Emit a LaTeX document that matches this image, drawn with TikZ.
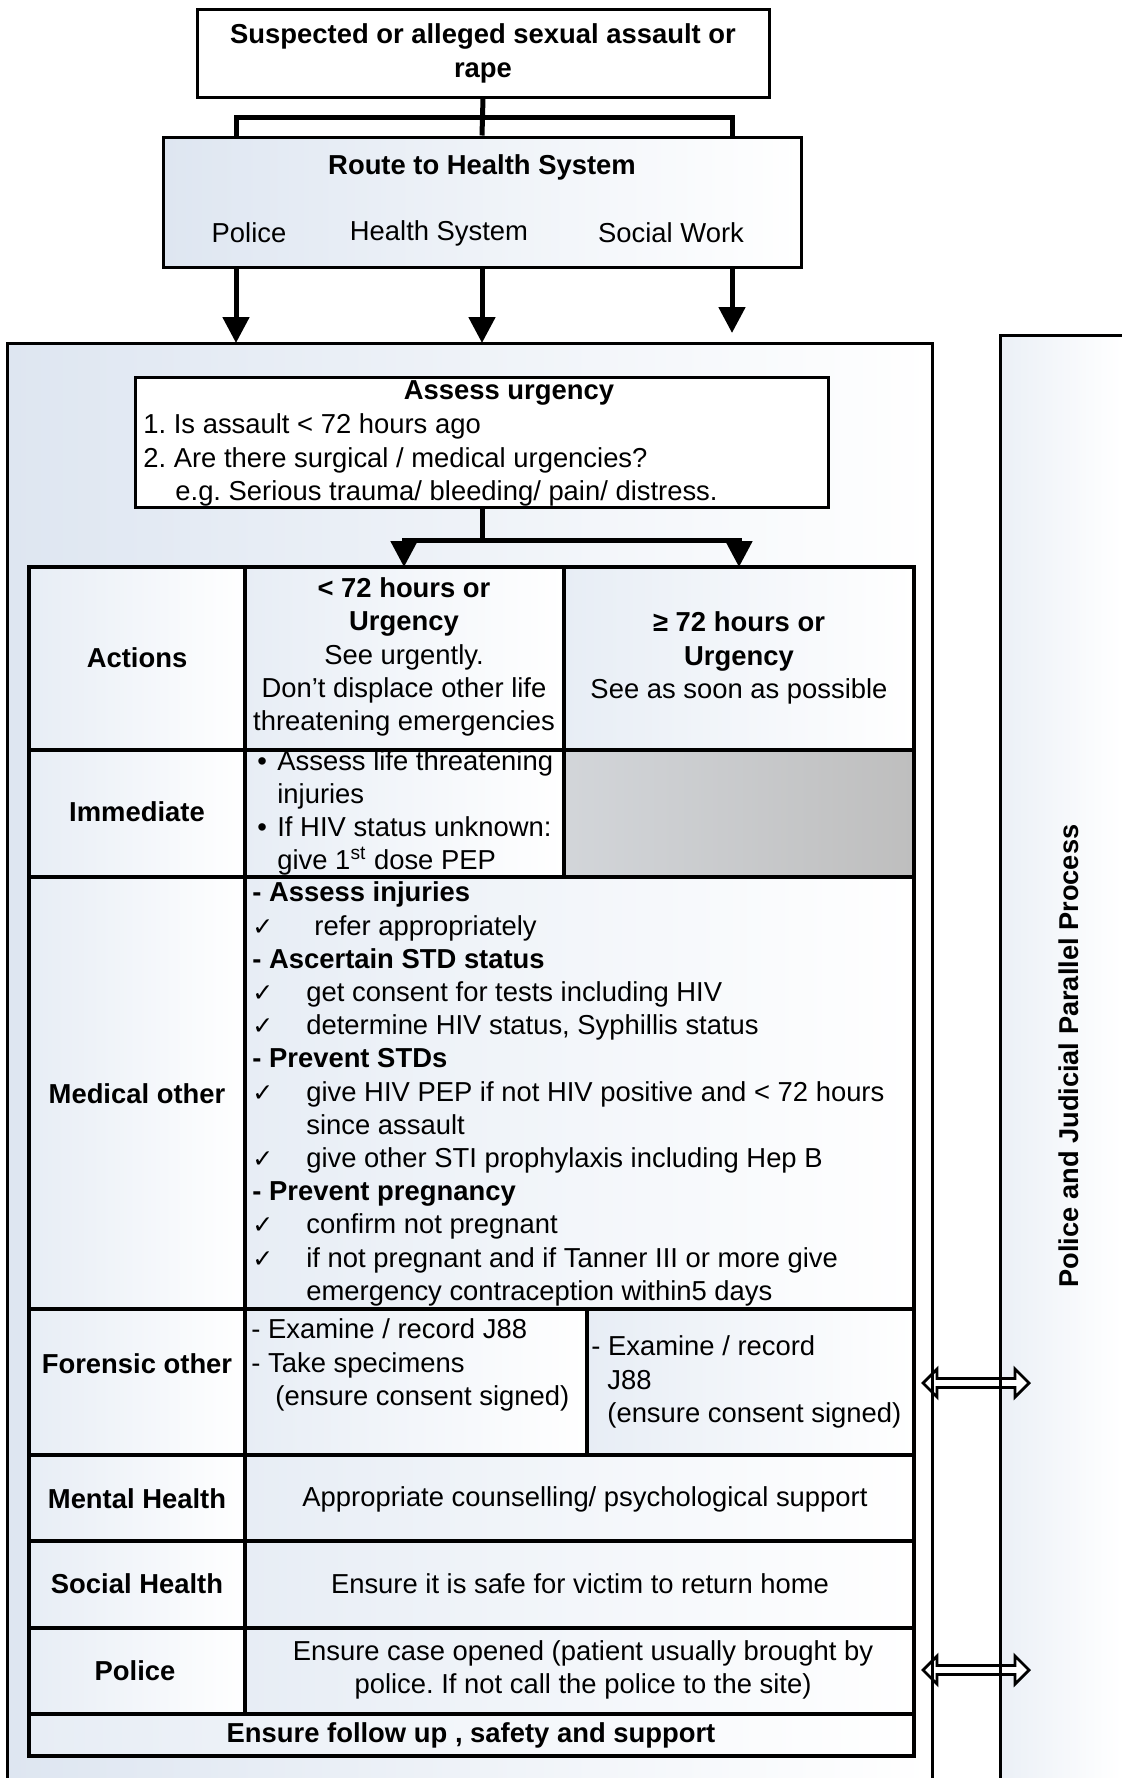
\documentclass[tikz,border=0pt]{standalone}
\usepackage{fontspec}
\setmainfont{Liberation Sans}
\newfontfamily\symfont{DejaVu Sans}
\usetikzlibrary{arrows.meta,positioning}
\frenchspacing

\definecolor{paleblue}{RGB}{222,230,241}
\definecolor{cellblue}{RGB}{231,237,245}
\definecolor{cellgray}{RGB}{190,190,190}

\newcommand{\basefont}{\fontsize{13.7}{16.6}\selectfont}
\newcommand{\chk}{\makebox[27pt][l]{\symfont\fontsize{12.5}{12.5}\selectfont ✓}}
\newcommand{\blt}{\makebox[10pt][l]{\textbullet}}

\tikzset{
  box/.style={draw, line width=1.5pt, inner sep=0pt},
  cell/.style={draw, line width=1.6pt, left color=cellblue, right color=white},
  txt/.style={inner sep=0pt, align=center, font=\basefont},
  head/.style={txt, font=\basefont\bfseries},
  conn/.style={line width=2.5pt},
  flow/.style={conn, -{Triangle[length=13pt,width=13pt]}},
  linkarrow/.pic={
    \draw[line width=1.4pt, fill=white, line join=miter]
      (-53,0) -- (-39,-14) -- (-39,-4.5) -- (39,-4.5) -- (39,-14) -- (53,0)
      -- (39,14) -- (39,4.5) -- (-39,4.5) -- (-39,14) -- cycle;
  }
}

\begin{document}
\begin{tikzpicture}[x=0.5pt, y=-0.5pt]
\useasboundingbox (0,0) rectangle (1122,1778);

% panels
\fill[left color=paleblue, right color=white] (7,343) rectangle (932,1778);
\fill[left color=paleblue!60, right color=white] (1000,335) rectangle (1122,1778);

% links to the parallel process
\coordinate (forensiclink) at (976,1383);
\coordinate (policelink) at (976,1670);
\pic at (forensiclink) {linkarrow};
\pic at (policelink) {linkarrow};

\draw[line width=1.5pt] (7,1778) -- (7,343) -- (932,343) -- (932,1778);
\draw[line width=1.5pt] (1000,1778) -- (1000,335) -- (1122,335);
\node[head, rotate=90, font=\fontsize{13.6}{16}\selectfont\bfseries] (parallel) at (1069,1056) {Police and Judicial Parallel Process};

% way in
\node[box, head, fill=white, minimum width=286pt, minimum height=44pt,
      font=\fontsize{13.7}{17}\selectfont\bfseries] (event) at (483,53) {Suspected or alleged sexual assault or\\rape};
\node[box, left color=paleblue, right color=white, minimum width=319pt, minimum height=65pt] (route) at (482,202) {};
\node[head] (routetitle) at (482,167) {Route to Health System};
\node[txt] (bypolice) at (249,233) {Police};
\node[txt] (byhealth) at (439,233) {Health System};
\node[txt] (bysocial) at (671,233) {Social Work};

\coordinate (colA) at (236,0);
\coordinate (colB) at (482,0);
\coordinate (colC) at (732,0);
\coordinate (split) at (482,117);
\coordinate (panel) at (0,343);
\coordinate (shortC) at (732,333);

\draw[conn] (event.south) -- (route.north);
\draw[conn] (route.north -| colA) |- (split) -| (route.north -| colC);
\draw[flow] (route.south -| colA) -- (panel -| colA);
\draw[flow] (route.south) -- (panel -| colB);
\draw[flow] (route.south -| colC) -- (shortC);

% urgency
\node[box, fill=white, minimum width=346.5pt, minimum height=65pt] (assess) at (482,442) {};
\node[head] (assesstitle) at (509,393) {Assess urgency};
\node[txt, anchor=west] (askhours) at (143,426) {1. Is assault < 72 hours ago};
\node[txt, anchor=west] (askurgent) at (143,460) {2. Are there surgical / medical urgencies?};
\node[txt, anchor=west] (example) at (175,493) {e.g. Serious trauma/ bleeding/ pain/ distress.};

\coordinate (fork) at (482,540);
\coordinate (tabletop) at (0,567);
\coordinate (colD) at (404,0);
\coordinate (colE) at (739,0);
\draw[conn] (assess.south) -- (fork);
\draw[flow] (fork) -| (tabletop -| colD);
\draw[flow] (fork) -| (tabletop -| colE);

% table of actions
\foreach \ya/\yb in {567/750, 750/877, 877/1309, 1309/1455, 1455/1541, 1541/1628, 1628/1714}
  \draw[cell] (29,\ya) rectangle (245,\yb);
\draw[cell] (245,567) rectangle (564,750);
\draw[cell] (564,567) rectangle (914,750);
\draw[cell] (245,750) rectangle (564,877);
\draw[cell, left color=cellblue!50!cellgray, right color=cellgray] (564,750) rectangle (914,877);
\draw[cell] (245,877) rectangle (914,1309);
\draw[cell] (245,1309) rectangle (587,1455);
\draw[cell] (587,1309) rectangle (914,1455);
\foreach \ya/\yb in {1455/1541, 1541/1628, 1628/1714}
  \draw[cell] (245,\ya) rectangle (914,\yb);
\draw[cell] (29,1714) rectangle (914,1756);

\node[head] (actions) at (137,658) {Actions};
\node[txt] (early) at (404,657) {\textbf{< 72 hours or}\\\textbf{Urgency}\\See urgently.\\Don’t displace other life\\threatening emergencies};
\node[txt] (late) at (739,658) {\textbf{≥ 72 hours or}\\\textbf{Urgency}\\See as soon as possible};

\node[head] (immediate) at (137,812) {Immediate};
\node[txt, align=left, anchor=west] (firstaid) at (257,813) {\blt Assess life threatening\\\hspace*{10pt}injuries\\\blt If HIV status unknown:\\\hspace*{10pt}give 1\textsuperscript{st} dose PEP};

\node[head] (medical) at (137,1094) {Medical other};
\node[txt, align=left, anchor=west] (medlist) at (252,1094) {%
  \textbf{- Assess injuries}\\
  \chk\hspace*{4pt}refer appropriately\\
  \textbf{- Ascertain STD status}\\
  \chk get consent for tests including HIV\\
  \chk determine HIV status, Syphillis status\\
  \textbf{- Prevent STDs}\\
  \chk give HIV PEP if not HIV positive and < 72 hours\\
  \hspace*{27pt}since assault\\
  \chk give other STI prophylaxis including Hep B\\
  \textbf{- Prevent pregnancy}\\
  \chk confirm not pregnant\\
  \chk if not pregnant and if Tanner III or more give\\
  \hspace*{27pt}emergency contraception within5 days};

\node[head] (forensic) at (137,1364) {Forensic other};
\node[txt, align=left, anchor=west] (fsample) at (251,1365) {- Examine / record J88\\- Take specimens\\\hspace*{12pt}(ensure consent signed)};
\node[txt, align=left, anchor=west] (frecord) at (591,1382) {- Examine / record\\\hspace*{8pt}J88\\\hspace*{8pt}(ensure consent signed)};

\node[head] (mental) at (137,1499) {Mental Health};
\node[txt] (counsel) at (585,1499) {Appropriate counselling/ psychological support};

\node[head] (social) at (137,1584) {Social Health};
\node[txt] (safehome) at (580,1584) {Ensure it is safe for victim to return home};

\node[head] (police) at (135,1671) {Police};
\node[txt] (casenote) at (583,1670) {Ensure case opened (patient usually brought by\\police. If not call the police to the site)};

\node[head] (followup) at (471,1735) {Ensure follow up , safety and support};
\end{tikzpicture}
\end{document}
